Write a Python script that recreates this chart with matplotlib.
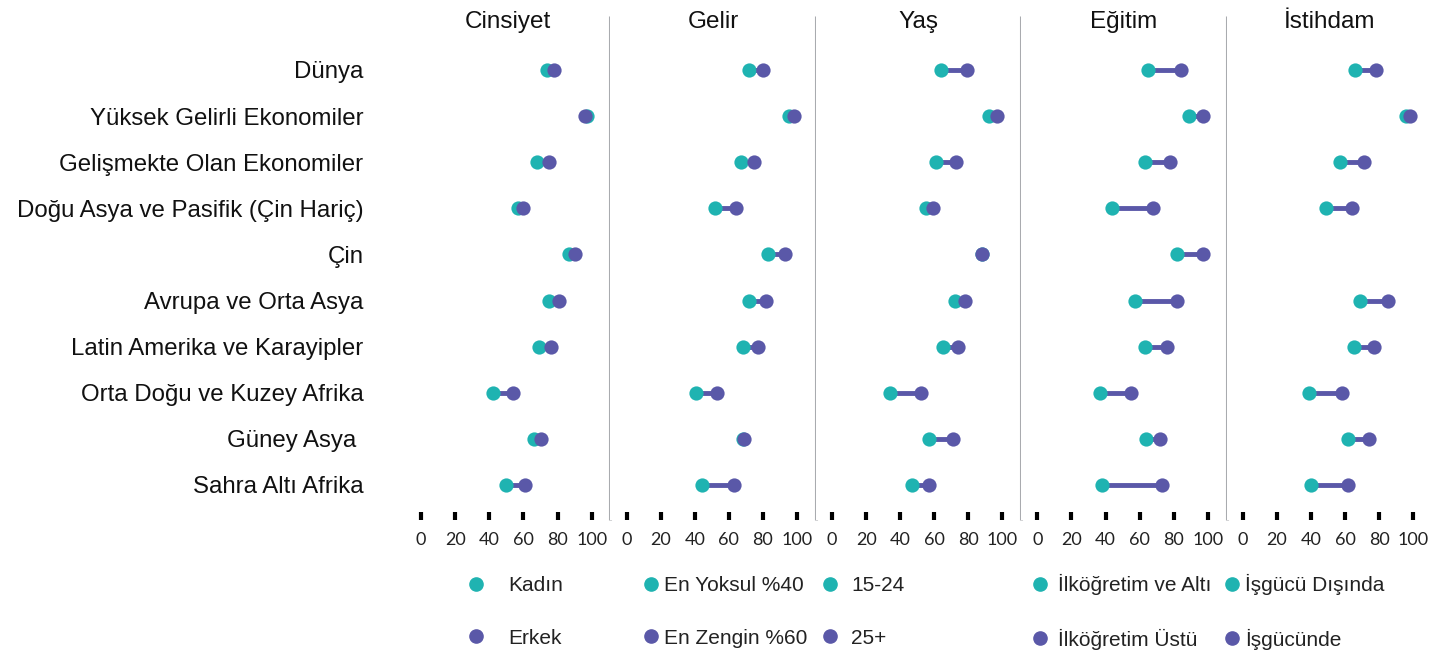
import numpy as np
import matplotlib
matplotlib.use("Agg")
import matplotlib.pyplot as plt
from matplotlib.lines import Line2D

plt.rcParams['font.family'] = ['Liberation Sans', 'DejaVu Sans']

bolgeler = ["Dünya", "Yüksek Gelirli Ekonomiler", "Gelişmekte Olan Ekonomiler",
            "Doğu Asya ve Pasifik (Çin Hariç)", "Çin", "Avrupa ve Orta Asya",
            "Latin Amerika ve Karayipler", "Orta Doğu ve Kuzey Afrika",
            "Güney Asya ", "Sahra Altı Afrika"]
basliklar = ["Cinsiyet", "Gelir", "Yaş", "Eğitim", "İstihdam"]
etiket_alt = ["Kadın", "En Yoksul %40", "15-24", "İlköğretim ve Altı", "İşgücü Dışında"]
etiket_ust = ["Erkek", "En Zengin %60", "25+", "İlköğretim Üstü", "İşgücünde"]
x_ticks = [0, 20, 40, 60, 80, 100]

cinsiyet_kadin = [74, 97, 68, 57, 87, 75, 69, 42, 66, 50]
cinsiyet_erkek = [78, 96, 75, 60, 90, 81, 76, 54, 70, 61]
gelir_yoksul = [72, 95, 67, 52, 83, 72, 68, 41, 68, 44]
gelir_zengin = [80, 98, 75, 64, 93, 82, 77, 53, 69, 63]
yas_genc = [64, 92, 61, 55, 88, 72, 65, 34, 57, 47]
yas_yetiskin = [79, 97, 73, 59, 88, 78, 74, 52, 71, 57]
egitim_alt = [65, 89, 63, 44, 82, 57, 63, 37, 64, 38]
egitim_ust = [84, 97, 78, 68, 97, 82, 76, 55, 72, 73]
istihdam_dis = [66, 96, 57, 49, np.nan, 69, 65, 39, 62, 40]
istihdam_ic = [78, 98, 71, 64, np.nan, 85, 77, 58, 74, 62]

alt_seriler = [cinsiyet_kadin, gelir_yoksul, yas_genc, egitim_alt, istihdam_dis]
ust_seriler = [cinsiyet_erkek, gelir_zengin, yas_yetiskin, egitim_ust, istihdam_ic]

teal = "#1fb3b1"
mor = "#5a58a8"
gri = "#a9abaf"

fig, axes = plt.subplots(1, 5, figsize=(14.5, 6.54), dpi=100, sharey=True)
fig.subplots_adjust(left=0.2793, right=0.9876, top=0.9755, bottom=0.2049, wspace=0)

y = np.arange(len(bolgeler))
for i, ax in enumerate(axes):
    alt = np.array(alt_seriler[i], dtype=float)
    ust = np.array(ust_seriler[i], dtype=float)
    ok = ~np.isnan(alt)
    ax.hlines(y[ok], alt[ok], ust[ok], color=mor, lw=3.5, zorder=2)
    ax.scatter(alt[ok], y[ok], s=105, color=teal, zorder=3, linewidths=0)
    ax.scatter(ust[ok], y[ok], s=105, color=mor, zorder=4, linewidths=0)

    ax.set_xlim(-9.5, 111)
    ax.set_ylim(9.76, -1.17)
    ax.set_xticks(x_ticks)
    ax.set_xticklabels([str(t) for t in x_ticks], family=['Lato', 'DejaVu Sans'],
                       fontsize=13, color="#222222")
    ax.tick_params(axis='x', direction='in', length=6, width=3, color='black', pad=9)
    for s in ['top', 'left', 'bottom']:
        ax.spines[s].set_visible(False)
    if i < 4:
        ax.spines['right'].set_color(gri)
        ax.spines['right'].set_linewidth(2.2)
        ax.spines['right'].set_capstyle('butt')
    else:
        ax.spines['right'].set_visible(False)
    ax.text(0.5, 0.988, basliklar[i], transform=ax.transAxes, ha='center',
            va='center', fontsize=17.5, color="#111111")

axes[0].set_yticks(y)
axes[0].set_yticklabels(bolgeler, fontsize=17.3, color="#111111")
axes[0].tick_params(axis='y', length=0, pad=30)
for ax in axes[1:]:
    ax.tick_params(axis='y', length=0, labelleft=False)

# legend: one per column
marker_x = [476, 651, 830, 1040, 1232]
text_pad = [1.04, 0.125, 0.51, 0.365, 0.125]
fs = 15
for i in range(5):
    handles = [Line2D([], [], marker='o', ls='none', color=teal, markersize=9.5),
               Line2D([], [], marker='o', ls='none', color=mor, markersize=9.5)]
    left = (marker_x[i] - 0.5 * fs * 100 / 72) / 1450
    fig.legend(handles, [etiket_alt[i], etiket_ust[i]], loc='center left',
               bbox_to_anchor=(left, 0.0642), frameon=False, handlelength=1,
               handletextpad=text_pad[i], borderpad=0, borderaxespad=0,
               labelspacing=1.6, prop={'size': fs}, labelcolor="#222222")

plt.savefig("out.png", dpi=100)
